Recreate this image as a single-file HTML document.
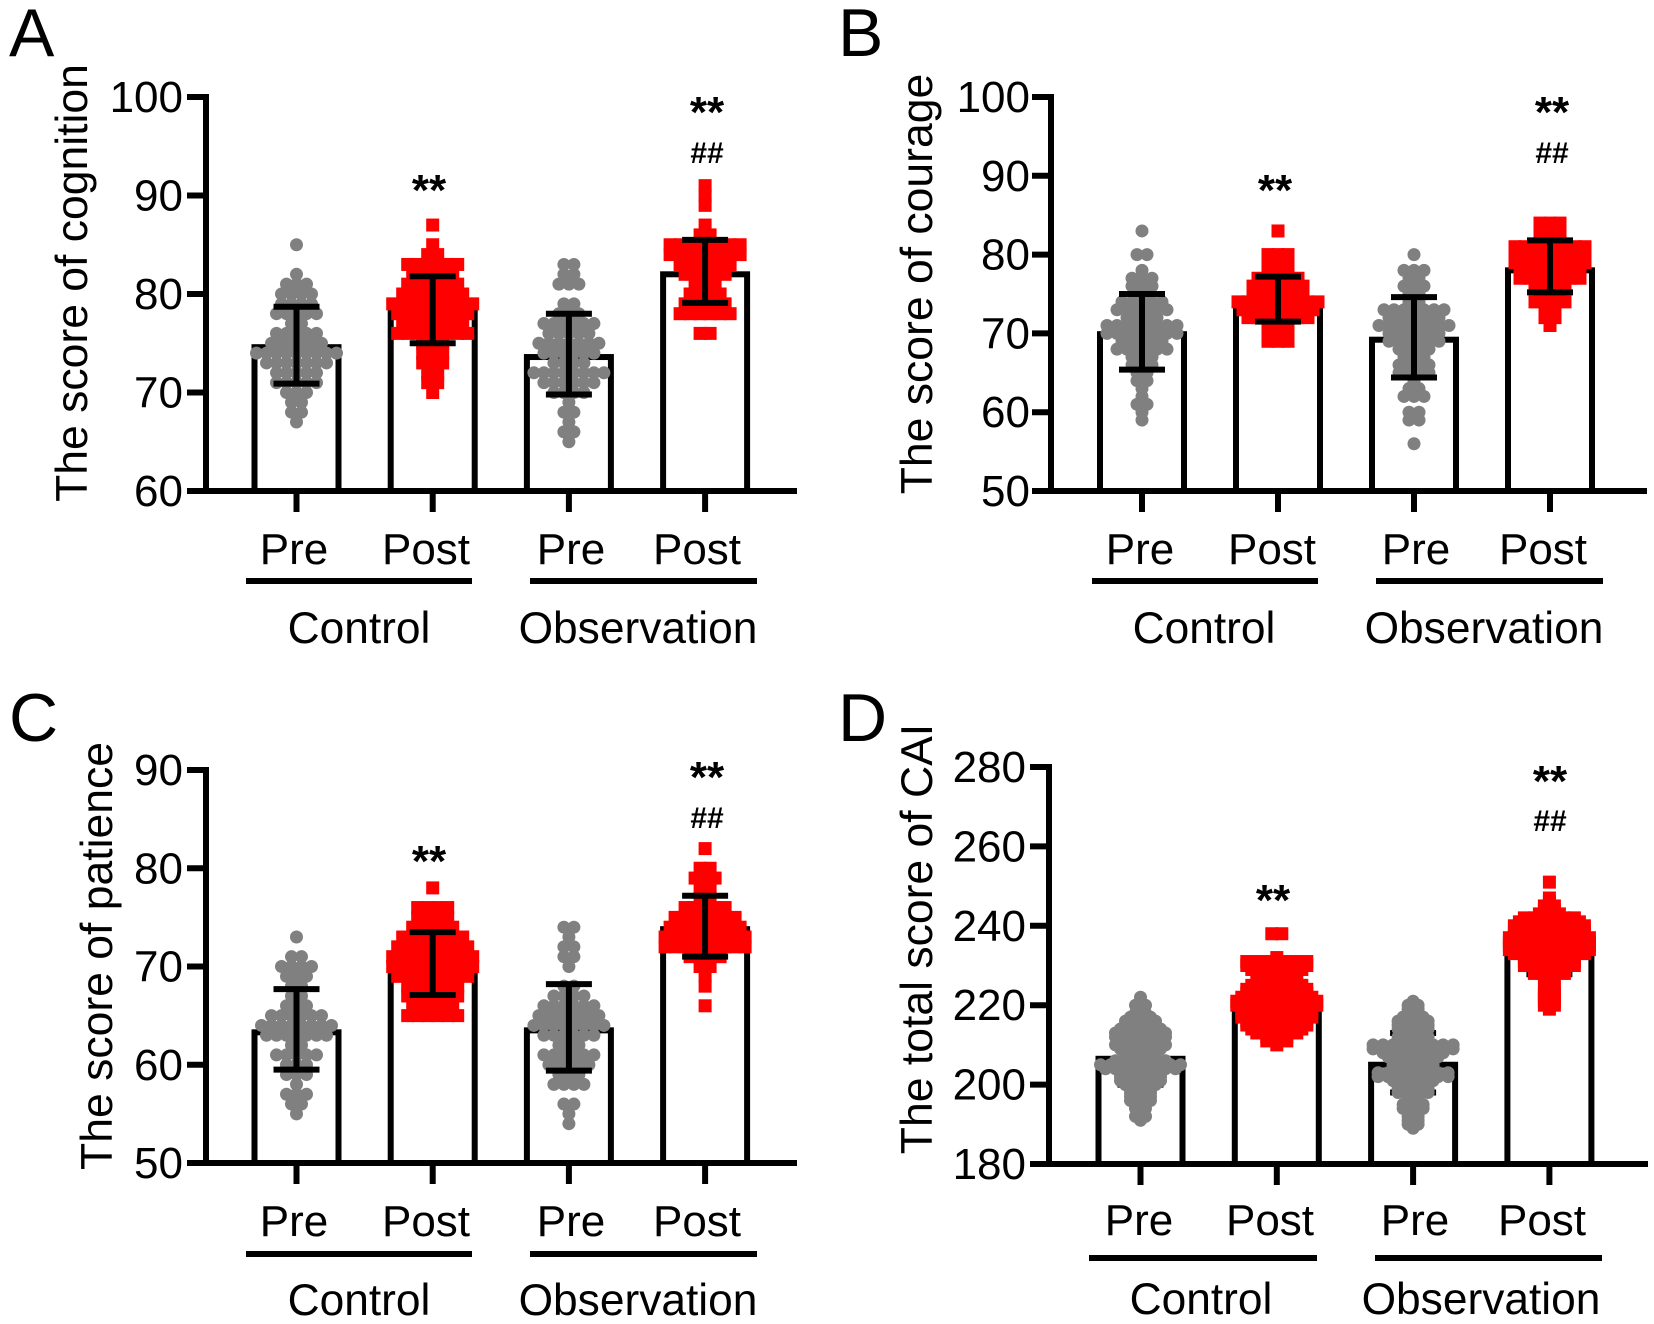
<!DOCTYPE html>
<html>
<head>
<meta charset="utf-8">
<title>CAI score panels</title>
<style>
html,body{margin:0;padding:0;background:#fff;}
svg{display:block;}
text{font-family:"Liberation Sans",Arial,sans-serif;fill:#000;}
</style>
</head>
<body>
<svg id="figure" width="1654" height="1324" viewBox="0 0 1654 1324" xmlns="http://www.w3.org/2000/svg"></svg>
<script>
const barLabels = ['Pre','Post','Pre','Post'];
const groupLabels = ['Control','Observation'];

const ticksA = [60,70,80,90,100];
const meansA = [74.6,78.2,73.6,82.0];
const errHighA = [78.7,81.8,78,85.5];
const errLowA = [70.9,75,69.8,79.1];
const a1 = [85,82,81,81,81,80,80,80,80,79,79,79,79,78,78,78,78,78,77,77,76,76,76,76,76,75,75,75,75,75,75,74,74,74,74,74,74,74,74,74,73,73,73,73,73,73,73,72,72,72,72,72,71,71,71,71,71,70,70,70,69,69,68,68,67];
const a2 = [87,85,84,84,83,83,83,83,83,83,82,82,82,82,82,81,81,81,81,81,81,80,80,80,80,80,80,80,79,79,79,79,79,79,79,79,79,78,78,78,78,78,78,78,78,77,77,77,77,77,77,77,76,76,76,76,76,76,76,76,75,75,75,74,74,74,73,73,73,72,72,71,71,70];
const a3 = [83,83,82,82,81,81,81,79,79,78,78,78,77,77,77,77,77,77,76,76,76,76,76,75,75,75,75,75,75,75,74,74,74,74,74,74,73,73,73,73,72,72,72,72,72,72,72,72,71,71,71,71,71,71,70,70,70,70,69,68,68,67,66,66,65];
const a4 = [91,90,89,87,86,86,85,85,85,85,85,85,85,85,84,84,84,84,84,84,84,84,83,83,83,83,83,83,82,82,82,82,82,81,81,81,80,80,80,80,79,79,79,79,79,78,78,78,78,78,78,76,76];

const ticksB = [50,60,70,80,90,100];
const meansB = [69.9,74,69.2,78];
const errHighB = [75,77.2,74.6,81.8];
const errLowB = [65.4,71.5,64.4,75.2];
const b1 = [83,80,80,78,77,77,77,76,76,76,75,75,74,74,74,74,74,73,73,73,73,73,73,72,72,72,72,71,71,71,71,71,71,71,71,70,70,70,70,70,70,70,70,69,69,69,69,69,68,68,68,68,68,68,67,67,67,66,66,66,65,65,64,64,63,62,61,61,60,59];
const b2 = [83,80,80,80,79,79,79,78,78,78,77,77,77,77,77,76,76,76,76,76,76,75,75,75,75,75,75,74,74,74,74,74,74,74,74,74,73,73,73,73,73,73,73,73,72,72,72,72,72,72,72,71,71,71,70,70,70,69,69,69];
const b3 = [80,78,78,78,77,77,76,76,76,75,75,74,74,73,73,73,73,73,73,73,72,72,72,72,72,72,71,71,71,71,71,71,71,71,70,70,70,70,70,70,69,69,69,69,69,69,68,68,68,68,67,67,67,66,66,66,66,65,65,65,65,64,63,63,62,62,62,60,60,59,59,56];
const b4 = [84,84,84,83,83,83,82,82,81,81,81,81,81,81,81,81,80,80,80,80,80,80,80,80,79,79,79,79,79,79,79,79,78,78,78,78,78,78,78,77,77,77,77,77,77,77,76,76,76,76,75,75,75,74,74,74,74,73,73,72,72,71];

const ticksC = [50,60,70,80,90];
const meansC = [63.3,70,63.5,73.8];
const errHighC = [67.7,73.5,68.2,77.2];
const errLowC = [59.5,67.1,59.4,71];
const c1 = [73,71,71,70,70,70,70,69,69,69,68,68,67,67,66,66,66,65,65,65,65,65,65,64,64,64,64,64,64,64,64,63,63,63,63,63,63,63,62,62,61,61,61,61,61,60,60,60,59,59,59,58,57,57,57,56,56,55];
const c2 = [78,76,76,76,76,75,75,75,75,74,74,74,74,74,73,73,73,73,73,73,73,72,72,72,72,72,72,72,72,71,71,71,71,71,71,71,71,71,70,70,70,70,70,70,70,70,70,69,69,69,69,69,69,69,69,68,68,68,68,68,68,67,67,67,67,67,67,66,66,66,66,66,65,65,65,65,65,65];
const c3 = [74,74,73,72,72,71,71,70,68,68,67,67,67,67,66,66,66,66,66,66,65,65,65,65,65,65,65,64,64,64,64,64,64,64,64,63,63,63,63,63,63,62,62,62,61,61,61,61,61,61,60,60,60,60,60,59,59,59,58,58,58,58,56,56,55,54];
const c4 = [82,80,80,79,79,79,78,78,77,77,76,76,76,76,76,75,75,75,75,75,75,75,74,74,74,74,74,74,74,74,73,73,73,73,73,73,73,73,73,72,72,72,72,72,72,72,72,72,71,71,71,71,70,70,69,68,66];

const ticksD = [180,200,220,240,260,280];
const meansD = [206.5,221.6,205,234];
const errHighD = [214,229,213,241.7];
const errLowD = [200,214.5,198,227.8];
const d1 = [222,221,220,220,219,218,218,217,217,217,216,216,216,216,215,215,215,215,214,214,214,214,214,213,213,213,213,213,213,212,212,212,212,212,212,211,211,211,211,210,210,210,210,210,210,209,209,209,209,209,208,208,208,208,207,207,207,207,206,206,206,206,206,206,205,205,205,205,205,205,205,205,205,204,204,204,204,204,204,204,204,203,203,203,203,203,202,202,202,202,202,201,201,201,201,201,200,200,200,200,199,199,199,198,198,198,197,197,197,196,196,196,195,195,194,194,193,192,192,191];
const d2 = [238,238,232,231,231,231,231,231,231,231,230,230,230,230,230,230,230,229,229,229,229,229,229,228,228,228,228,228,227,227,227,226,226,226,226,225,225,225,225,225,225,224,224,224,224,224,224,224,223,223,223,223,223,223,223,222,222,222,222,222,222,222,222,221,221,221,221,221,221,221,221,221,220,220,220,220,220,220,220,220,220,219,219,219,219,219,219,219,219,218,218,218,218,218,218,218,218,217,217,217,217,217,217,217,217,216,216,216,216,216,216,216,215,215,215,215,215,215,215,214,214,214,214,214,214,213,213,213,213,213,212,212,212,211,211,211,210];
const d3 = [221,220,220,219,219,218,218,217,217,217,216,216,216,216,215,215,215,215,214,214,214,214,213,213,213,212,212,212,212,211,211,211,211,210,210,210,210,210,210,210,210,210,209,209,209,209,209,209,209,209,209,208,208,208,208,208,208,208,207,207,207,207,207,207,206,206,206,206,206,205,205,205,205,205,204,204,204,204,204,203,203,203,203,203,203,203,203,202,202,202,202,202,202,202,202,201,201,201,201,201,200,200,200,200,199,199,199,199,198,198,198,198,197,197,196,196,195,195,195,194,194,194,193,193,192,192,191,191,190,190,189];
const d4 = [251,247,246,245,245,244,244,243,243,243,242,242,242,242,242,242,241,241,241,241,241,241,241,240,240,240,240,240,240,240,240,239,239,239,239,239,239,239,239,238,238,238,238,238,238,238,238,237,237,237,237,237,237,237,237,237,236,236,236,236,236,236,236,236,236,235,235,235,235,235,235,235,235,235,234,234,234,234,234,234,234,234,234,233,233,233,233,233,233,233,233,232,232,232,232,232,232,231,231,231,231,231,231,230,230,230,230,230,230,229,229,229,229,228,228,228,228,227,227,226,224,224,223,223,222,222,221,221,220,220,219];

const NS = 'http://www.w3.org/2000/svg';
const figure = document.getElementById('figure');

function addLine(parent, x1, y1, x2, y2, w, name) {
  const el = document.createElementNS(NS, 'line');
  el.setAttribute('x1', x1);
  el.setAttribute('y1', y1);
  el.setAttribute('x2', x2);
  el.setAttribute('y2', y2);
  el.setAttribute('stroke', '#000');
  el.setAttribute('stroke-width', w);
  
  
  parent.appendChild(el);
  return el;
}

function addText(parent, str, x, y, size, anchor, name, rotate, bold) {
  const el = document.createElementNS(NS, 'text');
  el.setAttribute('x', x);
  el.setAttribute('y', y);
  el.setAttribute('font-size', size);
  el.setAttribute('text-anchor', anchor);
  if (rotate) el.setAttribute('transform', 'rotate(-90 ' + x + ' ' + y + ')');
  if (bold) el.setAttribute('font-weight', 'bold');
  el.textContent = str;
  
  
  parent.appendChild(el);
  return el;
}

function drawPanel(cfg) {
  const g = document.createElementNS(NS, 'g');
  
  
  figure.appendChild(g);

  const tMin = cfg.ticks[0];
  const tMax = cfg.ticks[cfg.ticks.length - 1];
  const yScale = v => cfg.y0 - (v - tMin) * (cfg.y0 - cfg.y1) / (tMax - tMin);
  const xScale = i => cfg.barX0 + i * cfg.barStep;
  const BAR_W = 84, CAP = 23, DOT = 13, STEP = 10, TICK = 19;

  addText(g, cfg.letter, cfg.letterX, cfg.letterY, 68, 'start', 'panel-letter');
  addText(g, cfg.title, cfg.titleX, cfg.titleY, 44.5, 'middle', 'y-axis-title', true);

  cfg.means.forEach((m, i) => {
    const cx = xScale(i);
    const bar = document.createElementNS(NS, 'rect');
    bar.setAttribute('x', cx - BAR_W / 2);
    bar.setAttribute('y', yScale(m));
    bar.setAttribute('width', BAR_W);
    bar.setAttribute('height', cfg.y0 - yScale(m));
    bar.setAttribute('fill', 'none');
    bar.setAttribute('stroke', '#000');
    bar.setAttribute('stroke-width', 6);
    
    
    g.appendChild(bar);
  });

  function drawErr(i) {
    const cx = xScale(i);
    const hi = yScale(cfg.errHigh[i]);
    const lo = yScale(cfg.errLow[i]);
    addLine(g, cx, hi, cx, lo, 6, 'error-bar-stem');
    addLine(g, cx - CAP, hi, cx + CAP, hi, 6, 'error-bar-cap-upper');
    addLine(g, cx - CAP, lo, cx + CAP, lo, 6, 'error-bar-cap-lower');
  }

  function drawPoints(i) {
    const cx = xScale(i);
    const vals = cfg.series[i];
    const counts = {};
    vals.forEach(v => { counts[v] = (counts[v] || 0) + 1; });
    const seen = {};
    vals.forEach(v => {
      const k = counts[v];
      const idx = seen[v] || 0;
      seen[v] = idx + 1;
      const px = cx + (idx - (k - 1) / 2) * STEP;
      const py = yScale(v);
      let el;
      if (i % 2 === 0) {
        el = document.createElementNS(NS, 'circle');
        el.setAttribute('cx', px);
        el.setAttribute('cy', py);
        el.setAttribute('r', DOT / 2);
        el.setAttribute('fill', '#808080');
      } else {
        el = document.createElementNS(NS, 'rect');
        el.setAttribute('x', px - DOT / 2);
        el.setAttribute('y', py - DOT / 2);
        el.setAttribute('width', DOT);
        el.setAttribute('height', DOT);
        el.setAttribute('fill', '#ff0000');
      }
      
      
      g.appendChild(el);
    });
  }

  cfg.means.forEach((m, i) => {
    if (cfg.pointsOnTop) { drawErr(i); drawPoints(i); }
    else { drawPoints(i); drawErr(i); }
  });

  addLine(g, cfg.axisX, cfg.y1 - 3, cfg.axisX, cfg.y0 + 3, 6, 'y-axis-line');
  addLine(g, cfg.axisX - TICK, cfg.y0, cfg.axisEnd, cfg.y0, 6, 'x-axis-line');
  cfg.ticks.forEach(t => {
    addLine(g, cfg.axisX - TICK, yScale(t), cfg.axisX, yScale(t), 6, 'y-tick');
    addText(g, String(t), cfg.tickLabelX, yScale(t) + 15, 44, 'end', 'y-tick-label');
  });
  cfg.means.forEach((m, i) => {
    addLine(g, xScale(i), cfg.y0, xScale(i), cfg.y0 + 21, 6, 'x-tick');
    addText(g, barLabels[i], cfg.labelX[i], cfg.labelY, 44, 'middle', 'x-tick-label');
  });
  cfg.brackets.forEach((b, j) => {
    addLine(g, b[0], cfg.bracketY, b[1], cfg.bracketY, 6, 'group-bracket');
    addText(g, groupLabels[j], cfg.groupX[j], cfg.groupY, 44.3, 'middle', 'group-label');
  });

  addText(g, '**', cfg.star1[0], cfg.star1[1], 44, 'middle', 'significance-stars-control', false, true);
  addText(g, '**', cfg.star2[0], cfg.star2[1], 44, 'middle', 'significance-stars-observation', false, true);
  addText(g, '##', cfg.hash[0], cfg.hash[1], 30, 'middle', 'significance-hashes-observation', false, true);
}

drawPanel({
  letter:'A', letterX:9, letterY:56, title:'The score of cognition', titleX:87, titleY:283,
  ticks:ticksA, means:meansA, errHigh:errHighA, errLow:errLowA, series:[a1,a2,a3,a4],
  axisX:206, tickLabelX:183, axisEnd:797, y0:491, y1:97, barX0:296.5, barStep:136.2,
  labelX:[294,426,571,697], labelY:564, bracketY:581, groupY:643, groupX:[359,638],
  brackets:[[246,472],[530,757]], star1:[429,205], star2:[707,127], hash:[707,163]
});
drawPanel({
  letter:'B', letterX:838, letterY:56, title:'The score of courage', titleX:932, titleY:284,
  ticks:ticksB, means:meansB, errHigh:errHighB, errLow:errLowB, series:[b1,b2,b3,b4],
  axisX:1051, tickLabelX:1030, axisEnd:1647, y0:491, y1:97, barX0:1142, barStep:136,
  labelX:[1140,1272,1416,1543], labelY:564, bracketY:581, groupY:643, groupX:[1204,1484],
  brackets:[[1092,1318],[1376,1603]], star1:[1275,205], star2:[1552,127], hash:[1552,163]
});
drawPanel({
  letter:'C', letterX:9, letterY:741, title:'The score of patience', titleX:112, titleY:956,
  ticks:ticksC, means:meansC, errHigh:errHighC, errLow:errLowC, series:[c1,c2,c3,c4],
  axisX:206, tickLabelX:183, axisEnd:797, y0:1163, y1:770, barX0:296.5, barStep:136.2,
  labelX:[294,426,571,697], labelY:1236, bracketY:1254, groupY:1315, groupX:[359,638],
  brackets:[[246,472],[530,757]], star1:[429,876], star2:[707,792], hash:[707,828]
});
drawPanel({
  letter:'D', letterX:838, letterY:741, title:'The total score of CAI', titleX:932, titleY:939,
  ticks:ticksD, means:meansD, errHigh:errHighD, errLow:errLowD, series:[d1,d2,d3,d4],
  axisX:1049, tickLabelX:1026, axisEnd:1648, y0:1164, y1:767, barX0:1140.5, barStep:136.3, pointsOnTop:true,
  labelX:[1139,1270,1415,1542], labelY:1235, bracketY:1258, groupY:1314, groupX:[1201,1481],
  brackets:[[1089,1317],[1375,1602]], star1:[1273,915], star2:[1550,796], hash:[1550,831]
});
</script>
</body>
</html>
